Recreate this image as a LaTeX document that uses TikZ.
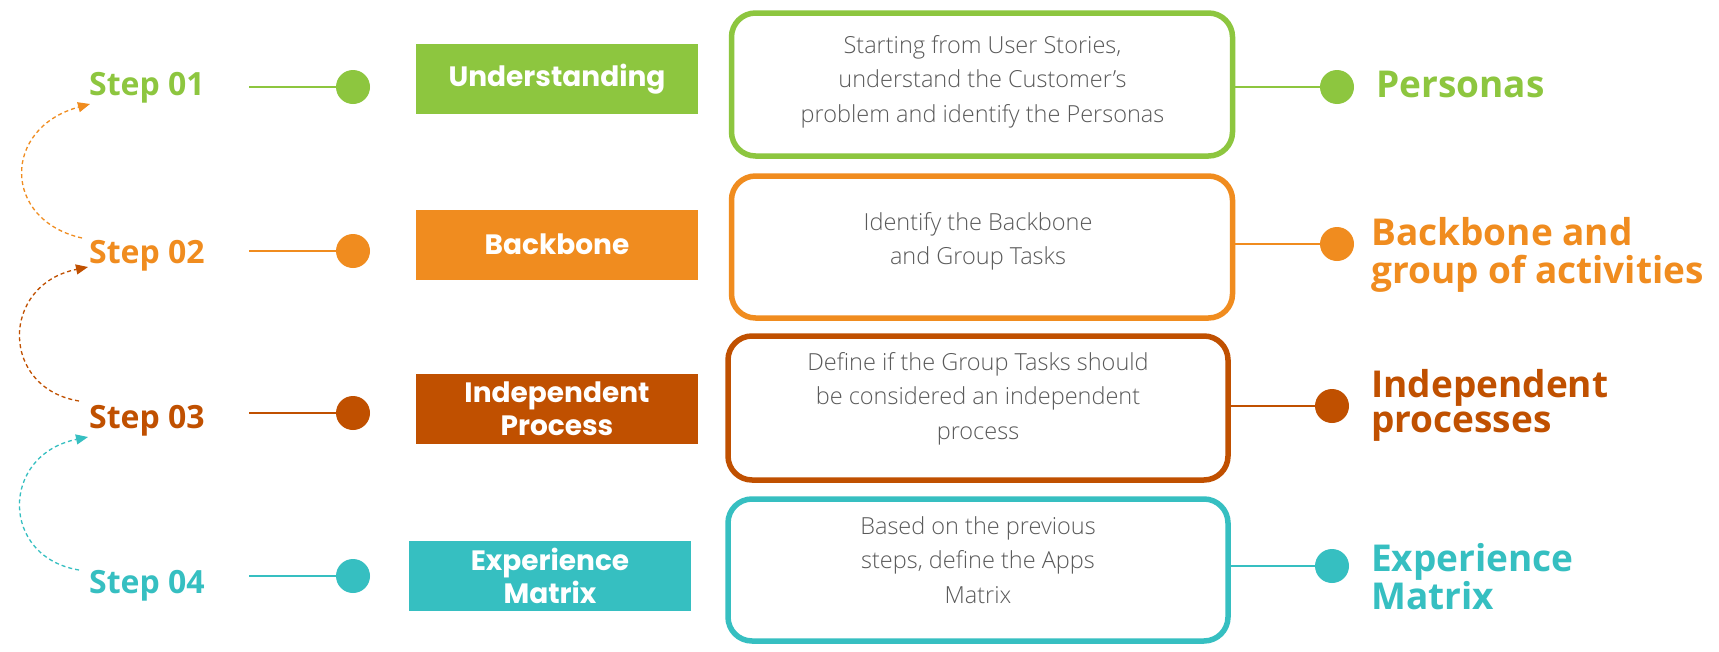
\documentclass[tikz,border=0pt]{standalone}
\usepackage{fontspec}
\usetikzlibrary{arrows.meta}
\newfontfamily\opensans{Open Sans}
\IfFontExistsTF{Open Sans Light}{\newfontfamily\oslight{Open Sans Light}}{\newfontfamily\oslight{Open Sans}}
\newfontfamily\poppins{Poppins}
\newcommand\mlc[1]{\begin{tabular}[t]{@{}c@{}}#1\end{tabular}}
\newcommand\mll[1]{\begin{tabular}[t]{@{}l@{}}#1\end{tabular}}
\definecolor{cgreen}{HTML}{8DC63F}
\definecolor{corange}{HTML}{F08C1F}
\definecolor{crust}{HTML}{C05000}
\definecolor{cteal}{HTML}{36BFC1}
\definecolor{ctext}{HTML}{595959}
\begin{document}
\begin{tikzpicture}[x=1pt,y=-1pt,
  steplabel/.style={anchor=base west, inner sep=0pt, font=\opensans\bfseries\fontsize{32}{38}\selectfont},
  reslabel/.style={anchor=base west, inner sep=0pt, font=\opensans\bfseries\fontsize{37}{35.5}\selectfont},
  dot/.style={circle, fill=#1, minimum size=34pt, inner sep=0pt},
  tag/.style={fill=#1, text=white, minimum width=282pt, minimum height=70pt, inner sep=0pt, align=center, font=\poppins\bfseries\fontsize{28}{33}\selectfont},
  card/.style={draw=#1, line width=5.5pt, rounded corners=24pt, inner sep=0pt, minimum width=501pt, minimum height=143pt},
  desc/.style={anchor=base, inner sep=0pt, text=ctext, font=\oslight\fontsize{23.5}{34.5}\selectfont},
  link/.style={line width=2.8pt},
  back/.style={line width=1.3pt, dash pattern=on 4pt off 3pt, -{Triangle[length=12pt,width=10pt]}},
]
\fill[white] (0,0) rectangle (1719,651);
\useasboundingbox (0,0) rectangle (1719,651);

% step labels
\node[steplabel, text=cgreen]  (s1) at (89,95)  {Step 01};
\node[steplabel, text=corange] (s2) at (89,263) {Step 02};
\node[steplabel, text=crust]   (s3) at (89,428) {Step 03};
\node[steplabel, text=cteal]   (s4) at (89,593) {Step 04};

% left dots and lines
\node[dot=cgreen]  (c1) at (353,87)  {};
\node[dot=corange] (c2) at (353,251) {};
\node[dot=crust]   (c3) at (353,413) {};
\node[dot=cteal]   (c4) at (353,576) {};
\coordinate (l1) at (249,87);
\coordinate (l2) at (249,251);
\coordinate (l3) at (249,413);
\coordinate (l4) at (249,576);
\draw[link, cgreen]  (l1) -- (c1);
\draw[link, corange] (l2) -- (c2);
\draw[link, crust]   (l3) -- (c3);
\draw[link, cteal]   (l4) -- (c4);

% coloured tags
\node[tag=cgreen]  (g1) at (557,79)    {Understanding};
\node[tag=corange] (g2) at (557,244.5) {Backbone};
\node[tag=crust]   (g3) at (557,409)   {Independent\\Process};
\node[tag=cteal]   (g4) at (550,576)   {Experience\\Matrix};

% cards
\node[card=cgreen] (b1) at (982,84.5) {};
\node[card=corange, minimum height=142pt] (b2) at (982,247) {};
\node[card=crust, minimum width=500pt, minimum height=144pt] (b3) at (978,408) {};
\node[card=cteal, minimum width=500pt, minimum height=142pt] (b4) at (978,570) {};

\node[desc] (t1) at (982.5,53) {\mlc{Starting from User Stories,\\understand the Customer’s\\problem and identify the Personas}};
\node[desc] (t2) at (978,230) {\mlc{Identify the Backbone\\and Group Tasks}};
\node[desc] (t3) at (978,370) {\mlc{Define if the Group Tasks should\\be considered an independent\\process}};
\node[desc] (t4) at (978,534) {\mlc{Based on the previous\\steps, define the Apps\\Matrix}};

% right dots and lines
\node[dot=cgreen]  (r1) at (1337,87)  {};
\node[dot=corange] (r2) at (1337,244) {};
\node[dot=crust]   (r3) at (1332,406) {};
\node[dot=cteal]   (r4) at (1332,566) {};
\draw[link, cgreen]  (b1.east |- r1) -- (r1);
\draw[link, corange] (b2.east |- r2) -- (r2);
\draw[link, crust]   (b3.east |- r3) -- (r3);
\draw[link, cteal]   (b4.east |- r4) -- (r4);

% result labels
\node[reslabel, text=cgreen]  (p1) at (1376,97)  {Personas};
\node[reslabel, text=corange] (p2) at (1371,245) {\mll{Backbone and\\group of activities}};
\node[reslabel, text=crust]   (p3) at (1371,397) {\mll{Independent\\processes}};
\node[reslabel, text=cteal]   (p4) at (1371,571) {\mll{Experience\\Matrix}};

% dashed back arrows
\coordinate (a1s) at (82,238);
\coordinate (a1e) at (90,104);
\coordinate (a2s) at (79,401);
\coordinate (a2e) at (88,267);
\coordinate (a3s) at (79,570);
\coordinate (a3e) at (88,437);
\draw[back, corange] (a1s) .. controls (2,220) and (2,128) .. (a1e);
\draw[back, crust]   (a2s) .. controls (0,388) and (0,285) .. (a2e);
\draw[back, cteal]   (a3s) .. controls (0,557) and (0,455) .. (a3e);
\end{tikzpicture}
\end{document}
